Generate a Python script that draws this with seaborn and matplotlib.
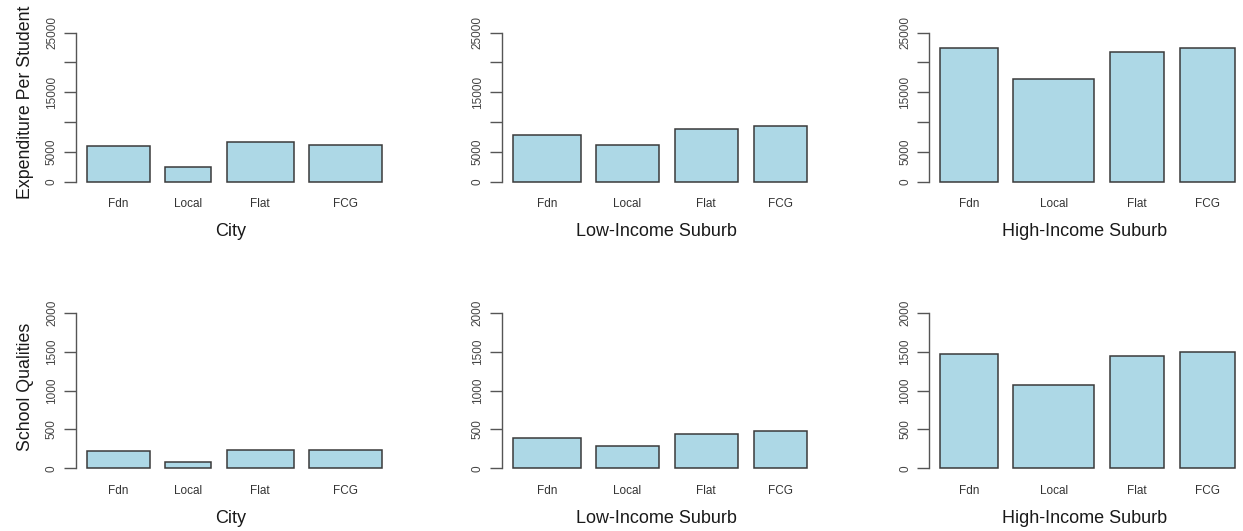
import matplotlib
matplotlib.use('Agg')
import matplotlib.pyplot as plt
import seaborn as sns
import pandas as pd

schemes = ['Fdn', 'Local', 'Flat', 'FCG']
regions = ['City', 'Low-Income Suburb', 'High-Income Suburb']

# expenditure per student, by region
exp_city = [6040, 2470, 6610, 6160]
exp_low = [7790, 6160, 8840, 9300]
exp_high = [22380, 17230, 21710, 22380]

# school qualities, by region
qual_city = [227, 86, 240, 236]
qual_low = [385, 283, 441, 475]
qual_high = [1473, 1071, 1443, 1490]

# relative bar widths (share of each scheme), by region
share_city = [0.253, 0.184, 0.271, 0.292]
share_low = [0.273, 0.254, 0.256, 0.217]
share_high = [0.232, 0.325, 0.221, 0.222]

exp_ticks = [0, 5000, 10000, 15000, 20000, 25000]
exp_ticklabels = ['0', '5000', '', '15000', '', '25000']
qual_ticks = [0, 500, 1000, 1500, 2000]
qual_ticklabels = ['0', '500', '1000', '1500', '2000']

rows = [
    ('Expenditure Per Student', [exp_city, exp_low, exp_high], exp_ticks, exp_ticklabels),
    ('School Qualities', [qual_city, qual_low, qual_high], qual_ticks, qual_ticklabels),
]
shares = [share_city, share_low, share_high]

sns.set_style('white')
plt.rcParams['font.family'] = ['Liberation Sans', 'DejaVu Sans']

W, H = 1243, 531
fig = plt.figure(figsize=(W / 100, H / 100), dpi=100)

col_left = [76, 501.7, 929.3]
row_top = [32.7, 312.7]
row_bot = [181.7, 468.3]
ylab_y = [0.53, 0.525]
xlab_y = [-0.275, -0.268]
unit = 62.0      # px per mean bar width
xmax = 5.0
gap = 0.25
first = 0.18

for r, (ylab, series, ticks, ticklabels) in enumerate(rows):
    for c in range(3):
        left = col_left[c] / W
        bottom = 1 - row_bot[r] / H
        height = (row_bot[r] - row_top[r]) / H
        width = unit * xmax / W
        ax = fig.add_axes([left, bottom, width, height])

        df = pd.DataFrame({'scheme': schemes, 'value': series[c]})
        sns.barplot(data=df, x='scheme', y='value', color='#ADD8E6',
                    saturation=1, edgecolor='#3a3a3a', linewidth=1.1, ax=ax)

        # widths proportional to share, constant gaps
        widths = [4 * s for s in shares[c]]
        pos = first
        centers = []
        for p, w in zip(ax.patches, widths):
            p.set_x(pos)
            p.set_width(w)
            p.set_clip_on(False)
            centers.append(pos + w / 2)
            pos += w + gap

        ax.set_xlim(0, xmax)
        ax.set_ylim(0, ticks[-1])
        ax.set_xticks(centers)
        ax.set_xticklabels(schemes, fontsize=8.5, color='#333333')
        ax.tick_params(axis='x', length=0, pad=12)
        ax.set_yticks(ticks)
        ax.set_yticklabels(ticklabels, rotation=90, va='center',
                           fontsize=8.5, color='#444444')
        ax.tick_params(axis='y', length=9, width=1, color='#555555',
                       pad=4, left=True)

        for s in ['top', 'right', 'bottom']:
            ax.spines[s].set_visible(False)
        ax.spines['left'].set_color('#555555')
        ax.spines['left'].set_linewidth(1)

        ax.set_xlabel(regions[c], fontsize=13, color='#1a1a1a')
        ax.xaxis.set_label_coords(0.5, xlab_y[r])
        if c == 0:
            ax.set_ylabel(ylab, fontsize=12.8, color='#1a1a1a')
            ax.yaxis.set_label_coords(-0.135, ylab_y[r])
        else:
            ax.set_ylabel('')

plt.savefig('out.png', dpi=100)
plt.close()
